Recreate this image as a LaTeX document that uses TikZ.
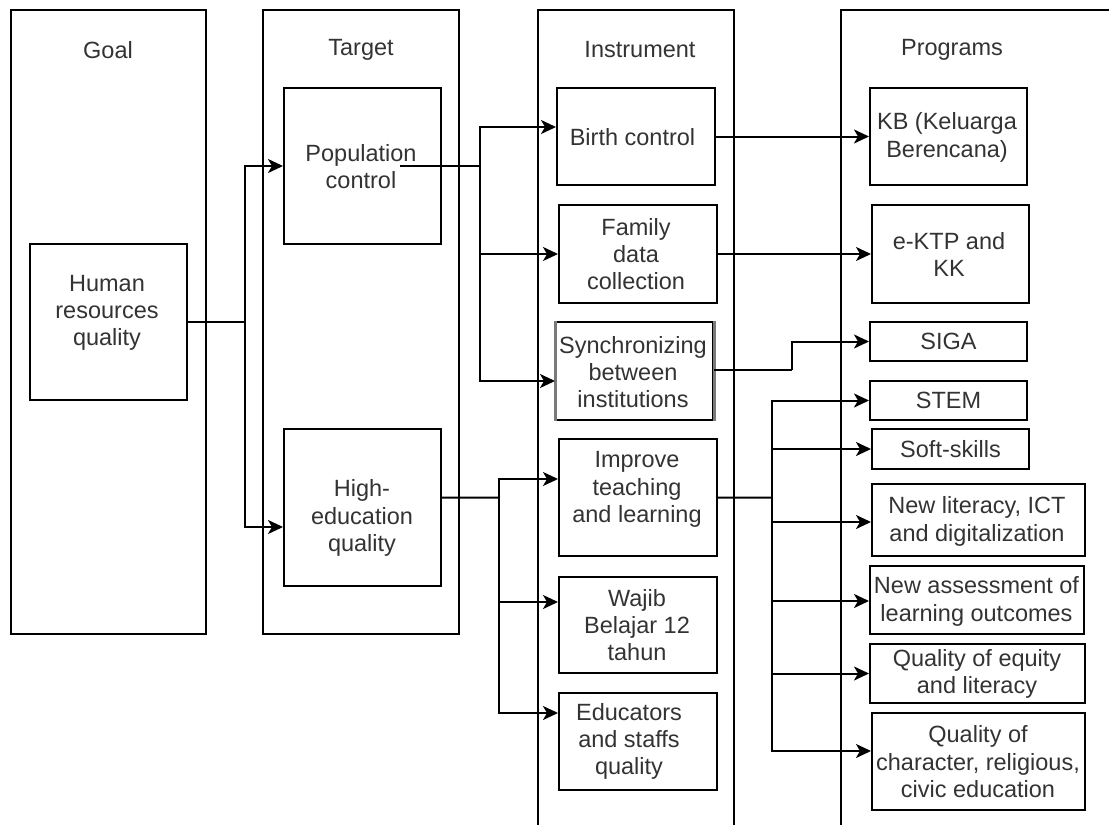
\documentclass[tikz,border=0pt]{standalone}
\usepackage{fontspec}
\setmainfont{Liberation Sans}
\usetikzlibrary{arrows.meta,positioning}
\definecolor{ink}{HTML}{333333}
\definecolor{sidegray}{HTML}{7A7A7A}
\tikzset{
  lane/.style={draw=black, line width=2pt},
  box/.style={draw=black, line width=2pt, rectangle, inner sep=0pt},
  lbl/.style={text=ink, align=center, inner sep=0pt, font=\fontsize{23.5}{27.3}\selectfont},
  conn/.style={draw=black, line width=2pt},
  arr/.style={conn, arrows={-Stealth[length=15pt, width=14pt, inset=4pt]}},
}
% place a box by its corners: \boxat{name}{x1}{y1}{x2}{y2}
\newcommand{\boxat}[5]{%
  \node[box, minimum width={#4-#2}, minimum height={#5-#3}] (#1) at ({(#2+#4)/2},{(#3+#5)/2}) {};}
\begin{document}
\begin{tikzpicture}[x=1pt,y=-1pt]
\useasboundingbox (0,0) rectangle (1109,825);
\fill[white] (0,0) rectangle (1109,825);
\clip (0,0) rectangle (1109,825);

% swim lanes
\draw[lane] (10.7,9.7) rectangle (206.4,634.3);
\draw[lane] (263,9.7) rectangle (458.6,634.3);
\draw[lane] (538,840) -- (538,9.7) -- (734,9.7) -- (734,840);
\draw[lane] (841,840) -- (841,9.7) -- (1130,9.7);

\node[lbl] (hGoal) at (108,50) {Goal};
\node[lbl] (hTarget) at (361,50) {Target};
\node[lbl] (hInstr) at (640,50) {Instrument};
\node[lbl] (hProg) at (952,50) {Programs};

% goal and targets
\boxat{hr}{30}{244}{187}{400}
\node[lbl] (thr) at (107,313) {Human\\resources\\quality};
\boxat{pop}{284}{88}{441}{244}
\node[lbl] (tpop) at (361,166.5) {Population\\control};
\boxat{he}{284}{429}{441}{586}
\node[lbl] (the) at (362,518) {High-\\education\\quality};

% instruments
\boxat{birth}{557}{88}{714.5}{185}
\node[lbl] (tbirth) at (632.5,137) {Birth control};
\boxat{fam}{559}{205}{717}{303}
\node[lbl] (tfam) at (636,254) {Family\\data\\collection};
\boxat{sync}{556}{322}{713}{420}
\draw[sidegray, line width=3pt] (sync.north west) -- (sync.south west);
\draw[sidegray, line width=3pt] (sync.north east) -- (sync.south east);
\node[lbl] (tsync) at (633,372) {Synchronizing\\between\\institutions};
\boxat{impr}{559}{439}{717}{556}
\node[lbl] (timpr) at (637,489.5) {Improve\\teaching\\and learning};
\boxat{wajib}{559}{577}{717}{673}
\node[lbl] (twajib) at (637,625) {Wajib\\Belajar 12\\tahun};
\boxat{educ}{559}{693}{717}{790}
\node[lbl] (teduc) at (629,741.5) {Educators\\and staffs\\quality};

% programs
\boxat{kb}{870}{88}{1027}{185}
\node[lbl] (tkb) at (947,137.5) {KB (Keluarga\\Berencana)};
\boxat{ektp}{872}{205}{1029}{303}
\node[lbl] (tektp) at (949,254.5) {e-KTP and\\KK};
\boxat{siga}{870}{322}{1027}{361}
\node[lbl] (tsiga) at (948.5,341.5) {SIGA};
\boxat{stem}{870}{381}{1027}{420}
\node[lbl] (tstem) at (948.5,400.5) {STEM};
\boxat{soft}{872}{429}{1029}{469}
\node[lbl] (tsoft) at (950.5,449) {Soft-skills};
\boxat{newlit}{872}{484}{1085}{556}
\node[lbl] (tnewlit) at (977,521.5) {New literacy, ICT\\and digitalization};
\boxat{newass}{870}{566}{1084}{634}
\node[lbl] (tnewass) at (976.5,601.5) {New assessment of\\learning outcomes};
\boxat{qeq}{870}{644}{1085}{703}
\node[lbl] (tqeq) at (977,674) {Quality of equity\\and literacy};
\boxat{qch}{872}{713}{1085}{810}
\node[lbl] (tqch) at (978,761.7) {Quality of\\character, religious,\\civic education};

% junction points of the connectors
\coordinate (jhr) at (245,322);
\coordinate (popout) at (400,166);
\coordinate (jpop) at (480,166);
\coordinate (jhe) at (499,497.7);
\coordinate (jsync) at (791.5,370);
\coordinate (jimpr) at (772,497.7);

% goal -> targets
\draw[conn] (hr.east) -- (jhr);
\draw[arr] (jhr) |- (pop.west);
\draw[arr] (jhr) |- ([yshift=-19.5pt]he.west);

% population control -> instruments
\draw[conn] (popout) -- (jpop);
\draw[arr] (jpop) |- ([yshift=9.5pt]birth.west);
\draw[arr] (jpop) |- (fam.west);
\draw[arr] (jpop) |- ([yshift=-10pt]sync.west);

% high-education quality -> instruments
\draw[conn] ([yshift=10pt]he.east) -- (jhe);
\draw[arr] (jhe) |- ([yshift=18.5pt]impr.west);
\draw[arr] (jhe) |- ([yshift=23pt]wajib.west);
\draw[arr] (jhe) |- ([yshift=28.5pt]educ.west);

% instruments -> programs
\draw[arr] (birth.east) -- (kb.west);
\draw[arr] (fam.east) -- (ektp.west);
\draw[conn] ([yshift=1pt]sync.east) -- (jsync);
\draw[arr] (jsync) |- (siga.west);
\draw[conn] (impr.east) -- (jimpr);
\draw[arr] (jimpr) |- (stem.west);
\draw[arr] (jimpr) |- (soft.west);
\draw[arr] (jimpr) |- ([yshift=-2pt]newlit.west);
\draw[arr] (jimpr) |- ([yshift=-1pt]newass.west);
\draw[arr] (jimpr) |- (qeq.west);
\draw[arr] (jimpr) |- ([yshift=10.5pt]qch.west);
\end{tikzpicture}
\end{document}
